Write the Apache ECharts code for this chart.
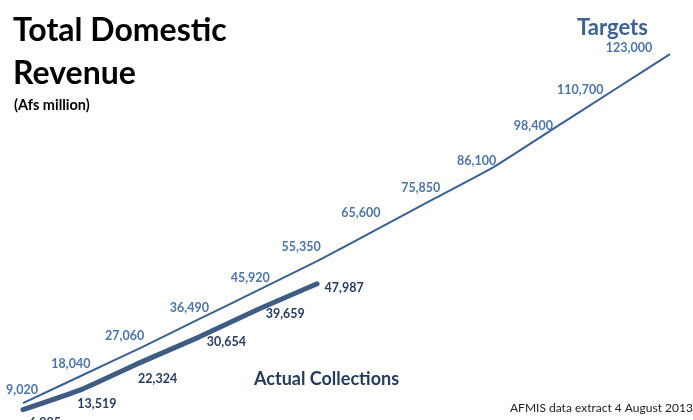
<!DOCTYPE html>
<html><head><meta charset="utf-8">
<script src="https://cdn.jsdelivr.net/npm/echarts@6/dist/echarts.min.js"></script>
<style>html,body{margin:0;padding:0;background:#fff}#c{width:693px;height:420px}</style>
</head><body><div id="c"></div>
<script>
const periods = ['1','2','3','4','5','6','7','8','9','10','11','12'];
const targets = [9020, 18040, 27060, 36490, 45920, 55350, 65600, 75850, 86100, 98400, 110700, 123000];
const actual = [6885, 13519, 22324, 30654, 39659, 47987];

// label nudges (label centre relative to the point), layout only
const targetNudge = [[-1,-13],[-11,-12],[-16,-12],[-10,-11],[-8,-12],[-16,-14],[-15,-17],[-14,-10],[-17,-6],[-19,-3],[-31,-2],[-41,-6]];
const actualNudge = [[22,13],[15,15],[17,17],[27,5],[27,5],[27,4]];

const chart = echarts.init(document.getElementById('c'));
const fmt = v => v.toLocaleString('en-US');
const SYM = 2;
const mk = (vals, nudges) => vals.map((v, i) => ({
  value: v,
  label: { position: [nudges[i][0] + SYM / 2, nudges[i][1] + SYM / 2], align: 'center', verticalAlign: 'middle' }
}));

chart.setOption({
  animation: false,
  backgroundColor: '#ffffff',
  textStyle: { fontFamily: 'Lato' },
  title: [
    { text: 'Total Domestic', left: 8, top: 10, textStyle: { fontFamily: 'Lato', fontWeight: 'bold', fontSize: 32, color: '#000' } },
    { text: 'Revenue', left: 8, top: 53, textStyle: { fontFamily: 'Lato', fontWeight: 'bold', fontSize: 32, color: '#000' } },
    { text: '(Afs million)', left: 9, top: 93, textStyle: { fontFamily: 'Lato', fontWeight: 'bold', fontSize: 14.5, color: '#000' } },
    { text: 'Targets', left: 572, top: 12, textStyle: { fontFamily: 'Lato', fontWeight: 'bold', fontSize: 22, color: '#3d6396' } },
    { text: 'Actual Collections', left: 249, top: 365, textStyle: { fontFamily: 'Lato', fontWeight: 'bold', fontSize: 18, color: '#253c5f' } },
    { text: 'AFMIS data extract 4 August 2013', left: 505, top: 397, textStyle: { fontFamily: 'Lato', fontWeight: 'normal', fontSize: 12, color: '#222' } }
  ],
  grid: { left: 23, top: 2, width: 647, bottom: 0, containLabel: false },
  xAxis: { type: 'category', data: periods, boundaryGap: false, show: false },
  yAxis: { type: 'value', min: 3500, max: 140000, show: false, splitLine: { show: false } },
  series: [
    {
      name: 'Targets', type: 'line', data: mk(targets, targetNudge), smooth: 0.15,
      showSymbol: true, symbol: 'circle', symbolSize: SYM,
      itemStyle: { color: 'rgba(0,0,0,0)', borderWidth: 0 },
      lineStyle: { color: '#3a6096', width: 2 },
      label: { show: true, formatter: p => fmt(p.value), fontFamily: 'Lato', fontWeight: 'bold', fontSize: 12.5, color: '#4d75a8' }
    },
    {
      name: 'Actual', type: 'line', data: mk(actual, actualNudge), smooth: 0.15,
      showSymbol: true, symbol: 'circle', symbolSize: SYM,
      itemStyle: { color: 'rgba(0,0,0,0)', borderWidth: 0 },
      lineStyle: { color: '#3f5c85', width: 5, cap: 'round' },
      label: { show: true, formatter: p => fmt(p.value), fontFamily: 'Lato', fontWeight: 'bold', fontSize: 12.5, color: '#263d62' }
    }
  ]
});
</script></body></html>
